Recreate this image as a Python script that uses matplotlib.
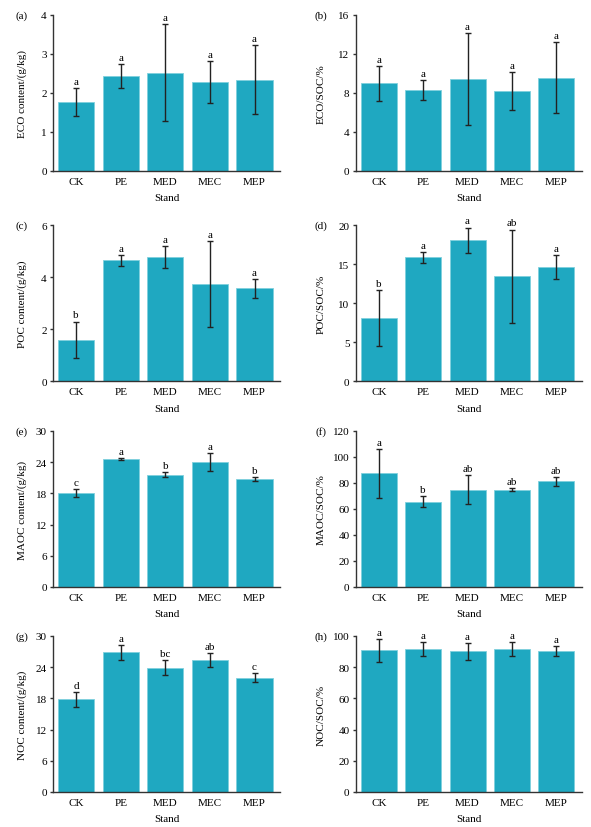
import numpy as np
import matplotlib
matplotlib.use('Agg')
import matplotlib.pyplot as plt

plt.rcParams['font.family'] = ['Liberation Serif', 'DejaVu Serif']
plt.rcParams['font.size'] = 8

stands = ['CK', 'PE', 'MED', 'MEC', 'MEP']

# (a) ECO content
eco_mean = [1.77, 2.44, 2.52, 2.29, 2.34]
eco_err = [0.35, 0.30, 1.25, 0.54, 0.89]
eco_sig = ['a', 'a', 'a', 'a', 'a']

# (b) ECO/SOC
eco_soc_mean = [9.0, 8.3, 9.45, 8.22, 9.58]
eco_soc_err = [1.78, 1.02, 4.73, 1.96, 3.63]
eco_soc_sig = ['a', 'a', 'a', 'a', 'a']

# (c) POC content
poc_mean = [1.59, 4.64, 4.78, 3.73, 3.56]
poc_err = [0.70, 0.22, 0.43, 1.65, 0.37]
poc_sig = ['b', 'a', 'a', 'a', 'a']

# (d) POC/SOC
poc_soc_mean = [8.1, 15.85, 18.03, 13.46, 14.62]
poc_soc_err = [3.6, 0.68, 1.65, 5.96, 1.5]
poc_soc_sig = ['b', 'a', 'a', 'ab', 'a']

# (e) MAOC content
maoc_mean = [18.0, 24.68, 21.62, 24.02, 20.78]
maoc_err = [0.77, 0.2, 0.48, 1.7, 0.36]
maoc_sig = ['c', 'a', 'b', 'a', 'b']

# (f) MAOC/SOC
maoc_soc_mean = [87.3, 65.6, 74.9, 74.9, 81.3]
maoc_soc_err = [18.7, 4.2, 11.3, 1.0, 3.3]
maoc_soc_sig = ['a', 'b', 'ab', 'ab', 'ab']

# (g) NOC content
noc_mean = [17.8, 26.86, 23.9, 25.4, 22.0]
noc_err = [1.45, 1.4, 1.47, 1.28, 0.83]
noc_sig = ['d', 'a', 'bc', 'ab', 'c']

# (h) NOC/SOC
noc_soc_mean = [90.8, 91.6, 90.2, 91.6, 90.2]
noc_soc_err = [7.2, 4.6, 5.4, 4.6, 3.3]
noc_soc_sig = ['a', 'a', 'a', 'a', 'a']

panels = [
    ('(a)', 'ECO content/(g/kg)', eco_mean, eco_err, eco_sig, [0, 1, 2, 3, 4]),
    ('(b)', 'ECO/SOC/%', eco_soc_mean, eco_soc_err, eco_soc_sig, [0, 4, 8, 12, 16]),
    ('(c)', 'POC content/(g/kg)', poc_mean, poc_err, poc_sig, [0, 2, 4, 6]),
    ('(d)', 'POC/SOC/%', poc_soc_mean, poc_soc_err, poc_soc_sig, [0, 5, 10, 15, 20]),
    ('(e)', 'MAOC content/(g/kg)', maoc_mean, maoc_err, maoc_sig, [0, 6, 12, 18, 24, 30]),
    ('(f)', 'MAOC/SOC/%', maoc_soc_mean, maoc_soc_err, maoc_soc_sig, [0, 20, 40, 60, 80, 100, 120]),
    ('(g)', 'NOC content/(g/kg)', noc_mean, noc_err, noc_sig, [0, 6, 12, 18, 24, 30]),
    ('(h)', 'NOC/SOC/%', noc_soc_mean, noc_soc_err, noc_soc_sig, [0, 20, 40, 60, 80, 100]),
]

fig = plt.figure(figsize=(5.91, 8.28), dpi=100)

lefts = [0.0897, 0.602]
widths = [0.384, 0.382]
bottoms = [0.7923, 0.5386, 0.2899, 0.0423]
height = 0.1884

x = np.arange(len(stands))
bar_color = '#1fa8c1'

for i, (tag, ylab, mean, err, sig, yt) in enumerate(panels):
    row, col = divmod(i, 2)
    ax = fig.add_axes([lefts[col], bottoms[row], widths[col], height])
    ax.bar(x, mean, width=0.81, color=bar_color, edgecolor='#7fd0dd', linewidth=0.6, zorder=2)
    ax.errorbar(x, mean, yerr=err, fmt='none', ecolor='#222222', elinewidth=1,
                capsize=2, capthick=1, zorder=3)
    for xi, m, e, s in zip(x, mean, err, sig):
        ax.annotate(s, (xi, m + e), xytext=(0, 1.5), textcoords='offset points',
                    ha='center', va='bottom', fontsize=8)
    ax.set_xlim(-0.52, 4.57)
    ax.set_ylim(0, yt[-1])
    ax.set_yticks(yt)
    ax.set_xticks(x)
    ax.set_xticklabels(stands)
    for sp in ['top', 'right']:
        ax.spines[sp].set_visible(False)
    for sp in ['left', 'bottom']:
        ax.spines[sp].set_color('#333333')
        ax.spines[sp].set_linewidth(1)
    ax.tick_params(axis='x', length=0, pad=4, labelsize=8)
    ax.tick_params(axis='y', length=2.5, width=1, color='#333333', pad=2, labelsize=8)
    lx = -0.137 if col == 0 else -0.155
    ax.set_ylabel(ylab, va='center', fontsize=8)
    ax.yaxis.set_label_coords(lx, 0.5)
    ax.set_xlabel('Stand', va='center', fontsize=8)
    ax.xaxis.set_label_coords(0.5, -0.173)
    ax.text(lx, 1.0, tag, transform=ax.transAxes, ha='center', va='center', fontsize=8)

fig.savefig('out.png', dpi=100)
